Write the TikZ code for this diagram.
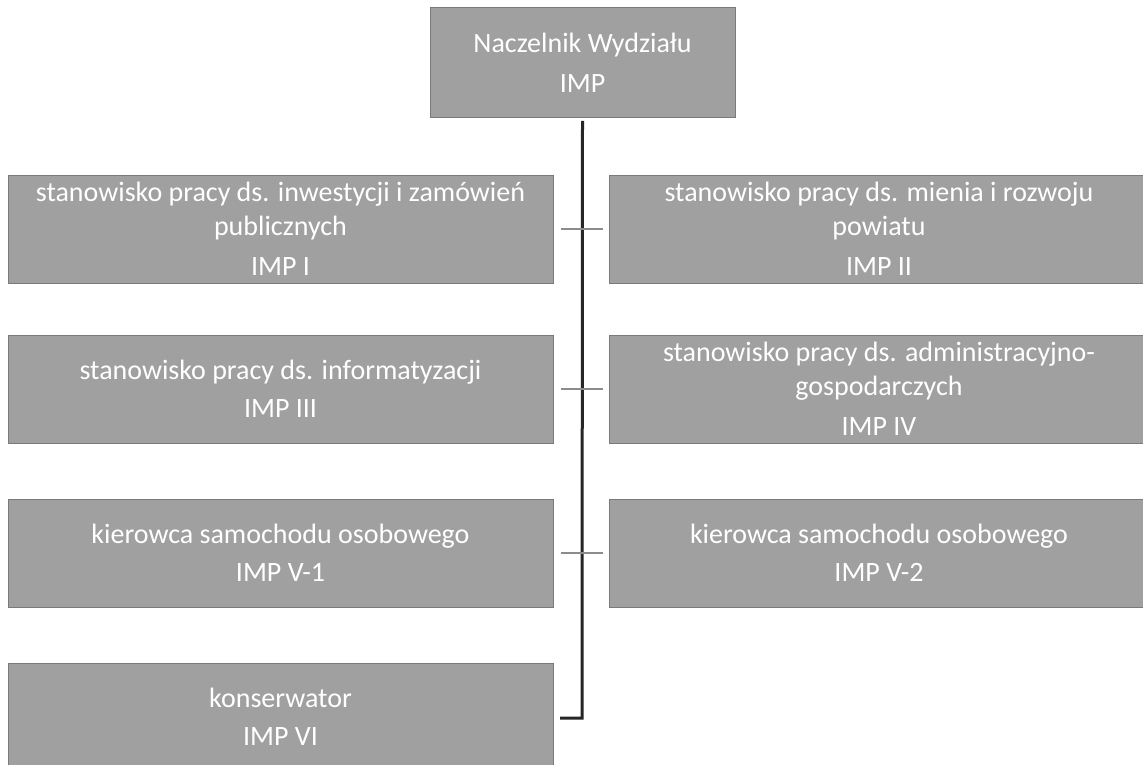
\documentclass[tikz,border=0pt]{standalone}
\usepackage{fontspec}
\setmainfont{Carlito}
\begin{document}
\begin{tikzpicture}[x=1pt,y=-1pt,
  orgbox/.style={fill=boxgray, draw=boxedge, line width=0.8pt, text=white, align=center,
    inner sep=0pt, font=\fontsize{28}{34}\selectfont},
  spine/.style={draw=black!85, line width=3pt},
  tick/.style={draw=black!45, line width=2.2pt}]
\definecolor{boxgray}{HTML}{A0A0A0}
\definecolor{boxedge}{HTML}{7A7A7A}
\useasboundingbox (0,0) rectangle (1143,765);
\clip (0,0) rectangle (1143,765);
\fill[white] (0,0) rectangle (1143,765);

\node[orgbox, minimum width=305pt, minimum height=110pt] (top) at (582.5,62.5)
  {Naczelnik Wydziału\\[6pt]IMP};

\node[orgbox, minimum width=545pt, minimum height=108pt] (l1) at (280.5,229)
  {stanowisko pracy ds. inwestycji i zamówień\\publicznych\\[6pt]IMP I};
\node[orgbox, minimum width=545pt, minimum height=108pt] (l2) at (280.5,389)
  {stanowisko pracy ds. informatyzacji\\[4pt]IMP III};
\node[orgbox, minimum width=545pt, minimum height=108pt] (l3) at (280.5,553)
  {kierowca samochodu osobowego\\[4pt]IMP V-1};
\node[orgbox, minimum width=545pt, minimum height=108pt] (l4) at (280.5,717)
  {konserwator\\[4pt]IMP VI};

\node[orgbox, minimum width=540pt, minimum height=108pt] (r1) at (879,229)
  {stanowisko pracy ds. mienia i rozwoju\\powiatu\\[6pt]IMP II};
\node[orgbox, minimum width=540pt, minimum height=108pt] (r2) at (879,389)
  {stanowisko pracy ds. administracyjno-\\gospodarczych\\[6pt]IMP IV};
\node[orgbox, minimum width=540pt, minimum height=108pt] (r3) at (879,553)
  {kierowca samochodu osobowego\\[4pt]IMP V-2};

\coordinate (bend) at (582,718);
\coordinate (tail) at (560,718);
\draw[spine] (top.south) ++(0,3) -- (bend) -- (tail);

\foreach \a/\b in {l1/r1, l2/r2, l3/r3}{
  \draw[tick] ([xshift=8pt]\a.east) -- ([xshift=-6pt]\b.west);
}
\end{tikzpicture}
\end{document}
